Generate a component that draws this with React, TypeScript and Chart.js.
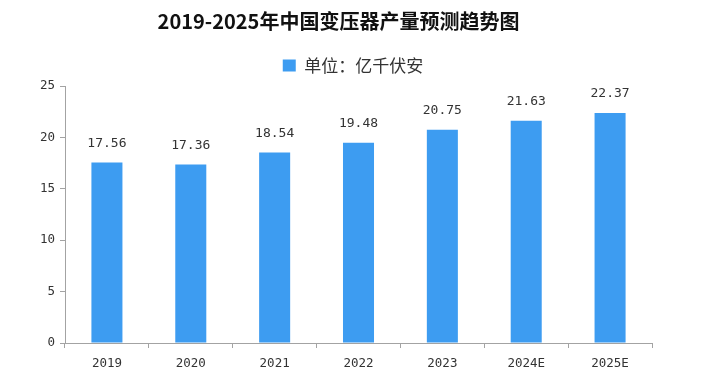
import React, { useEffect, useRef } from "react";
import { Chart, registerables } from "chart.js";

Chart.register(...registerables);

const categories = ["2019", "2020", "2021", "2022", "2023", "2024E", "2025E"];
const production = [17.56, 17.36, 18.54, 19.48, 20.75, 21.63, 22.37];
const yTicks = [0, 5, 10, 15, 20, 25];
const titleText = "2019-2025年中国变压器产量预测趋势图";
const seriesLabel = "单位：亿千伏安";

const BAR_COLOR = "#3d9cf1";
const AXIS_COLOR = "#a3a3a3";
const TEXT_COLOR = "#333333";
const MONO = "'DejaVu Sans Mono', monospace";
const CJK = "'Noto Sans CJK SC', 'Noto Sans', sans-serif";

const titlePlugin = {
  id: "customTitle",
  afterDraw(chart: any) {
    const ctx = chart.ctx;
    ctx.save();
    ctx.font = `bold 20px ${CJK}`;
    ctx.fillStyle = "#111111";
    ctx.textAlign = "center";
    ctx.textBaseline = "middle";
    ctx.fillText(titleText, 338.5, 21);
    ctx.restore();
  },
};

const valueLabelPlugin = {
  id: "valueLabels",
  afterDatasetsDraw(chart: any) {
    const ctx = chart.ctx;
    const meta = chart.getDatasetMeta(0);
    ctx.save();
    ctx.font = `13px ${MONO}`;
    ctx.fillStyle = TEXT_COLOR;
    ctx.textAlign = "center";
    ctx.textBaseline = "middle";
    meta.data.forEach((bar: any, i: number) => {
      ctx.fillText(production[i].toFixed(2), bar.x, bar.y - 19);
    });
    ctx.restore();
  },
};

export default function App() {
  const ref = useRef<HTMLCanvasElement | null>(null);
  useEffect(() => {
    if (!ref.current) return;
    const chart = new Chart(ref.current, {
      type: "bar",
      data: {
        labels: categories,
        datasets: [
          {
            label: seriesLabel,
            data: production,
            backgroundColor: BAR_COLOR,
            borderWidth: 0,
            barPercentage: 0.37,
            categoryPercentage: 1,
            xAxisID: "x",
            yAxisID: "y",
          },
        ],
      },
      options: {
        animation: false,
        responsive: false,
        maintainAspectRatio: false,
        layout: { padding: { top: 47, right: 15, left: 20, bottom: 0 } },
        plugins: {
          title: { display: false },
          tooltip: { enabled: false },
          legend: {
            display: true,
            position: "top",
            labels: {
              boxWidth: 13,
              boxHeight: 12,
              color: TEXT_COLOR,
              font: { family: CJK, size: 17 },
              padding: 10,
            },
          },
        },
        scales: {
          x: {
            position: "bottom",
            offset: true,
            grid: {
              display: true,
              offset: true,
              drawOnChartArea: false,
              drawTicks: true,
              tickLength: 5,
              color: AXIS_COLOR,
            },
            border: { display: true, color: AXIS_COLOR, width: 1 },
            ticks: {
              color: TEXT_COLOR,
              font: { family: MONO, size: 12.5 },
              padding: 8,
              maxRotation: 0,
            },
            afterFit(scale: any) {
              scale.height = 34;
            },
          },
          topSpacer: {
            type: "category",
            position: "top",
            display: true,
            grid: { display: false, drawTicks: false },
            border: { display: false },
            ticks: { display: false },
            afterFit(scale: any) {
              scale.height = 2;
            },
          },
          y: {
            position: "left",
            min: 0,
            max: 25,
            afterBuildTicks(scale: any) {
              scale.ticks = yTicks.map((v) => ({ value: v }));
            },
            grid: {
              display: true,
              drawOnChartArea: false,
              drawTicks: true,
              tickLength: 5,
              color: AXIS_COLOR,
            },
            border: { display: true, color: AXIS_COLOR, width: 1 },
            ticks: {
              color: TEXT_COLOR,
              font: { family: MONO, size: 12.5 },
              padding: 5,
            },
            afterFit(scale: any) {
              scale.width = 45;
            },
          },
          spacer: {
            position: "right",
            display: true,
            min: 0,
            max: 25,
            grid: { display: false, drawTicks: false },
            border: { display: false },
            ticks: { display: false },
            afterFit(scale: any) {
              scale.width = 34;
            },
          },
        },
      },
      plugins: [titlePlugin, valueLabelPlugin],
    });
    return () => chart.destroy();
  }, []);
  return (
    <div style={{ position: "absolute", left: 0, top: 0, width: 701, height: 377, background: "#fff" }}>
      <canvas ref={ref} width={701} height={377} style={{ display: "block", width: 701, height: 377 }} />
    </div>
  );
}
